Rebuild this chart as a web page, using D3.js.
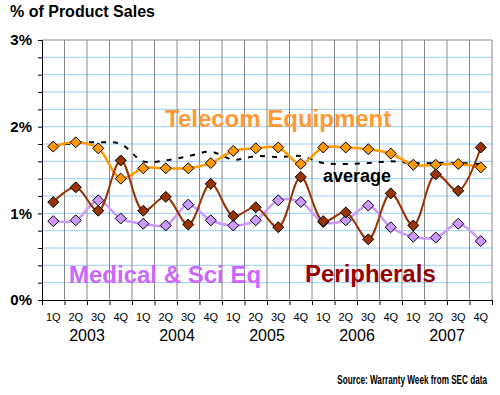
<!DOCTYPE html>
<html>
<head>
<meta charset="utf-8">
<script src="https://cdn.jsdelivr.net/npm/d3@7"></script>
<style>
  body { margin: 0; background: #fff; }
  svg { font-family: Arial, "Liberation Sans", sans-serif; }
</style>
</head>
<body>
<svg width="500" height="395"></svg>
<script>
// quarters 1Q 2003 .. 4Q 2007
const quarters = ["1Q", "2Q", "3Q", "4Q"];
const years = ["2003", "2004", "2005", "2006", "2007"];
const telecom = [1.77, 1.82, 1.75, 1.40, 1.52, 1.52, 1.52, 1.58, 1.72, 1.75,
                 1.76, 1.57, 1.76, 1.76, 1.74, 1.69, 1.56, 1.56, 1.57, 1.53];
const peripherals = [1.13, 1.30, 1.03, 1.61, 1.03, 1.19, 0.87, 1.34, 0.97, 1.07,
                     0.84, 1.42, 0.91, 1.01, 0.70, 1.23, 0.86, 1.45, 1.26, 1.76];
const medical = [0.91, 0.92, 1.15, 0.94, 0.88, 0.86, 1.10, 0.92, 0.86, 0.92,
                 1.15, 1.13, 0.90, 0.92, 1.09, 0.84, 0.73, 0.72, 0.88, 0.68];
const average = [1.78, 1.81, 1.82, 1.80, 1.60, 1.61, 1.66, 1.71, 1.62, 1.66,
                 1.65, 1.66, 1.58, 1.57, 1.58, 1.60, 1.58, 1.58, 1.58, 1.57];
const yLabels = [0, 1, 2, 3];

const svg = d3.select("svg");
const margin = { top: 40, right: 8, bottom: 95, left: 42 };
const width = +svg.attr("width") - margin.left - margin.right;
const height = +svg.attr("height") - margin.top - margin.bottom;
const g = svg.append("g").attr("transform", "translate(" + margin.left + "," + margin.top + ")");

const idx = d3.range(telecom.length);
const x = d3.scaleBand().domain(idx).range([0, width]);
const xb = d3.scaleLinear().domain([0, idx.length]).range([0, width]);
const y = d3.scaleLinear().domain([0, 3]).range([height, 0]);
const cx = i => x(i) + x.bandwidth() / 2;

// horizontal grid
g.append("g")
  .selectAll("line")
  .data(d3.range(1, 15).map(v => v * 0.2))
  .enter().append("line")
  .attr("x1", 0).attr("x2", width)
  .attr("y1", d => y(d)).attr("y2", d => y(d))
  .attr("stroke", "#99ccff").attr("stroke-width", 1);

// vertical grid + frame
g.append("g")
  .selectAll("line")
  .data(d3.range(1, idx.length + 1))
  .enter().append("line")
  .attr("x1", d => xb(d)).attr("x2", d => xb(d))
  .attr("y1", 0).attr("y2", height)
  .attr("stroke", "#888").attr("stroke-width", 1);
g.append("line")
  .attr("x1", 0).attr("x2", width).attr("y1", y(3)).attr("y2", y(3))
  .attr("stroke", "#888");

// axes
const yAxis = g.append("g")
  .call(d3.axisLeft(y).tickValues(d3.range(0, 16).map(v => v * 0.2)).tickSize(4)
    .tickFormat(d => yLabels.includes(Math.round(d * 10) / 10) ? Math.round(d) + "%" : ""));
yAxis.select(".domain").attr("stroke", "#000");
yAxis.selectAll("line").attr("stroke", "#000");
yAxis.selectAll("text")
  .attr("font-size", 15).attr("font-weight", "bold").attr("fill", "#000")
  .attr("x", -10).attr("font-family", "Arial, 'Liberation Sans', sans-serif");

const xAxis = g.append("g")
  .attr("transform", "translate(0," + height + ")")
  .call(d3.axisBottom(xb).tickValues(d3.range(0, idx.length + 1)).tickSize(5).tickFormat(""));
xAxis.selectAll("line, path").attr("stroke", "#000");

const qAxis = g.append("g")
  .attr("transform", "translate(0," + height + ")")
  .call(d3.axisBottom(x).tickSize(0).tickFormat(i => quarters[i % 4]));
qAxis.select(".domain").remove();
qAxis.selectAll("text")
  .attr("y", 13).attr("font-size", 11).attr("fill", "#000")
  .attr("font-family", "Arial, 'Liberation Sans', sans-serif");

g.append("g")
  .selectAll("text")
  .data(years)
  .enter().append("text")
  .attr("x", (d, i) => xb(i * 4 + 2))
  .attr("y", height + 41)
  .attr("text-anchor", "middle")
  .attr("font-size", 16)
  .attr("fill", "#000")
  .text(d => d);

// series
const line = data => d3.line()
  .x((d, i) => cx(i))
  .y(d => y(d))
  .curve(d3.curveCatmullRom.alpha(0.5))(data);

const diamond = "M0,-5.5L5.5,0L0,5.5L-5.5,0Z";

g.append("path")
  .attr("d", line(average))
  .attr("fill", "none").attr("stroke", "#000")
  .attr("stroke-width", 2).attr("stroke-dasharray", "5,7");

const series = [
  { data: telecom, line: "#ff9900", fill: "#ff9900", w: 2.5 },
  { data: medical, line: "#cc99ff", fill: "#cc99ff", w: 2.5 },
  { data: peripherals, line: "#993300", fill: "#993300", w: 2 }
];

series.forEach(s => {
  g.append("path")
    .attr("d", line(s.data))
    .attr("fill", "none").attr("stroke", s.line).attr("stroke-width", s.w);
  g.append("g")
    .selectAll("path")
    .data(s.data)
    .enter().append("path")
    .attr("d", diamond)
    .attr("transform", (d, i) => "translate(" + cx(i) + "," + y(d) + ")")
    .attr("fill", s.fill).attr("stroke", "#000").attr("stroke-width", 1);
});

// labels
svg.append("text").attr("x", 10).attr("y", 17)
  .attr("font-size", 16).attr("font-weight", "bold").attr("fill", "#000")
  .text("% of Product Sales");
svg.append("text").attr("x", 165).attr("y", 127)
  .attr("font-size", 24).attr("font-weight", "bold").attr("fill", "#ff9933")
  .text("Telecom Equipment");
svg.append("text").attr("x", 323).attr("y", 182)
  .attr("font-size", 18).attr("font-weight", "bold").attr("fill", "#000")
  .text("average");
svg.append("text").attr("x", 69).attr("y", 283)
  .attr("font-size", 24).attr("font-weight", "bold").attr("fill", "#cc66ff")
  .text("Medical & Sci Eq");
svg.append("text").attr("x", 305).attr("y", 282)
  .attr("font-size", 24).attr("font-weight", "bold").attr("fill", "#990000")
  .text("Peripherals");

// source note: the original face is narrow, so squeeze it horizontally
const src = svg.append("text")
  .attr("text-anchor", "end")
  .attr("font-size", 12).attr("font-weight", "bold").attr("fill", "#000")
  .text("Source: Warranty Week from SEC data");
const sx = 150 / src.node().getComputedTextLength();
src.attr("transform", "translate(487,384) scale(" + sx + ",1)");
</script>
</body>
</html>
